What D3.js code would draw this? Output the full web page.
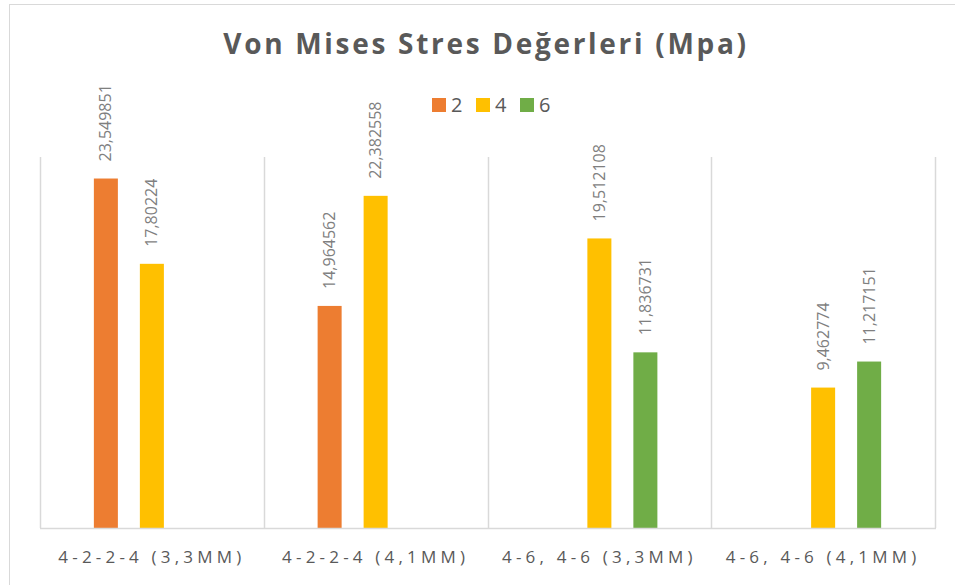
<!DOCTYPE html>
<html>
<head>
<meta charset="utf-8">
<script src="https://cdn.jsdelivr.net/npm/d3@7"></script>
<style>
  body { margin: 0; background: #fff; }
  text { font-family: 'Open Sans', sans-serif; }
</style>
</head>
<body>
<svg id="chart"></svg>
<script>
const categories = ['4-2-2-4 (3,3MM)', '4-2-2-4 (4,1MM)', '4-6, 4-6 (3,3MM)', '4-6, 4-6 (4,1MM)'];
const seriesNames = ['2', '4', '6'];
const colors = ['#ED7D31', '#FFC000', '#70AD47'];
const values2 = [23.549851, 14.964562, null, null];
const values4 = [17.80224, 22.382558, 19.512108, 9.462774];
const values6 = [null, null, 11.836731, 11.217151];
const yDomain = [0, 25];

const W = 955, H = 585;
const plot = {left: 40, right: 935, top: 157, bottom: 528};

const svg = d3.select('#chart')
.attr('width', W)
.attr('height', H);

// outer chart border (only top/left show in the crop)
svg.append('rect')
.attr('x', 9.5).attr('y', 4.5)
.attr('width', W + 20).attr('height', H + 20)
.attr('fill', '#fff')
.attr('stroke', '#D9D9D9');

const seriesValues = [values2, values4, values6];
const data = categories.map((c, i) => ({
  cat: c,
  vals: seriesNames.map((s, j) => ({series: s, color: colors[j], value: seriesValues[j][i]}))
}));

const x0 = d3.scaleBand()
.domain(categories)
.range([plot.left, plot.right])
.padding(0);

const x1 = d3.scaleBand()
.domain(seriesNames)
.range([0, x0.bandwidth()])
.paddingInner(0.478)
.paddingOuter(1.171);

const y = d3.scaleLinear()
.domain(yDomain)
.range([plot.bottom, plot.top]);

// vertical category separators
const seps = categories.map(c => x0(c)).concat([plot.right]);
svg.append('g')
.selectAll('line')
.data(seps)
.enter()
.append('line')
.attr('x1', d => Math.round(d) + 0.5).attr('x2', d => Math.round(d) + 0.5)
.attr('y1', y(yDomain[1])).attr('y2', y(0))
.attr('stroke', '#D9D9D9')
.attr('stroke-width', 1.5);

const groups = svg.append('g')
.selectAll('g')
.data(data)
.enter()
.append('g')
.attr('transform', d => `translate(${x0(d.cat)}, 0)`);

const bars = groups.selectAll('g')
.data(d => d.vals.filter(v => v.value != null))
.enter()
.append('g');

bars.append('rect')
.attr('x', d => x1(d.series))
.attr('y', d => y(d.value))
.attr('width', x1.bandwidth())
.attr('height', d => y(0) - y(d.value))
.attr('fill', d => d.color);

bars.append('text')
.attr('transform', d => `translate(${x1(d.series) + x1.bandwidth() / 2}, ${y(d.value) - 17}) rotate(-90)`)
.attr('dy', '0.35em')
.attr('text-anchor', 'start')
.style('font-size', '16px')
.style('fill', '#7F7F7F')
.text(d => String(d.value).replace('.', ','));

// baseline axis
svg.append('line')
.attr('x1', plot.left).attr('x2', plot.right + 1)
.attr('y1', y(0) + 0.5).attr('y2', y(0) + 0.5)
.attr('stroke', '#D9D9D9')
.attr('stroke-width', 1.5);

svg.append('g')
.selectAll('text')
.data(categories)
.enter()
.append('text')
.attr('x', d => x0(d) + x0.bandwidth() / 2)
.attr('y', 563)
.attr('text-anchor', 'middle')
.style('font-size', '17px')
.style('letter-spacing', '4.2px')
.style('fill', '#595959')
.text(d => d);

svg.append('text')
.attr('x', 486)
.attr('y', 54)
.attr('text-anchor', 'middle')
.style('font-size', '28px')
.style('font-weight', 'bold')
.style('letter-spacing', '2.7px')
.style('fill', '#595959')
.text('Von Mises Stres Değerleri (Mpa)');

// legend
const legend = svg.append('g')
.selectAll('g')
.data(seriesNames)
.enter()
.append('g')
.attr('transform', (d, i) => `translate(${432 + i * 44}, 98)`);

legend.append('rect')
.attr('width', 14).attr('height', 14)
.attr('fill', (d, i) => colors[i]);

legend.append('text')
.attr('x', 19).attr('y', 14)
.style('font-size', '20px')
.style('fill', '#595959')
.text(d => d);
</script>
</body>
</html>
